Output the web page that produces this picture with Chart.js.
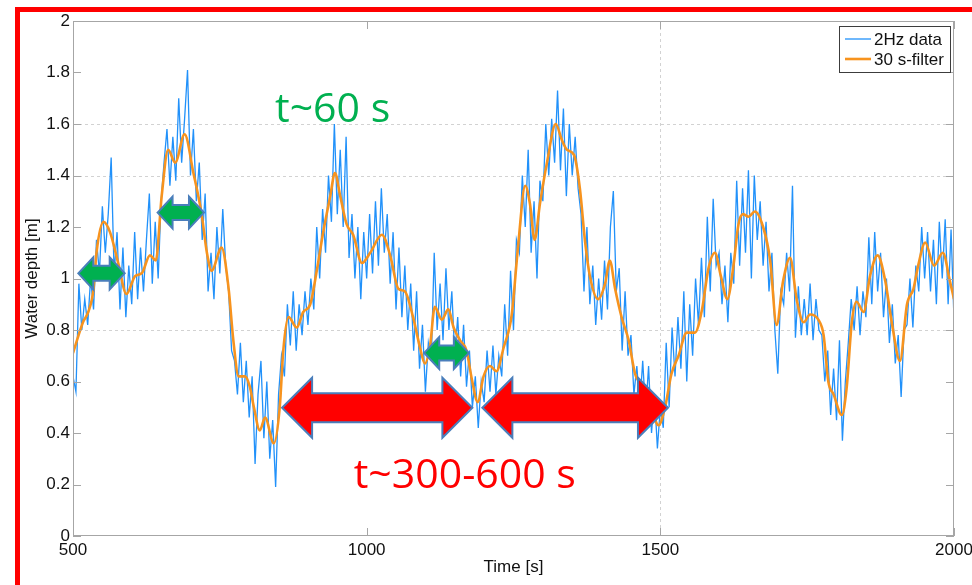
<!DOCTYPE html>
<html>
<head>
<meta charset="utf-8">
<script src="https://cdn.jsdelivr.net/npm/chart.js@4.4.0/dist/chart.umd.min.js"></script>
<style>
    body { margin: 0; background: #fff; }
    #wrap { position: relative; width: 972px; height: 585px; overflow: hidden; }
    #frame_left { position: absolute; left: 15px; top: 7px; width: 5px; height: 578px; background: #ff0000; }
    #frame_top { position: absolute; left: 15px; top: 7px; width: 957px; height: 5px; background: #ff0000; }
</style>
</head>
<body>
<div id="wrap">
    <canvas id="depth_chart" width="972" height="585"></canvas>
    <div id="frame_left"></div>
    <div id="frame_top"></div>
</div>
<script>
// 2Hz record, every 5 s from t = 500 s
var rawStart = 500;
var rawStep = 5;
var rawDepth = [
    0.62, 0.56, 0.98, 0.80, 0.92, 0.82, 1.00, 0.88, 1.15, 1.02,
    1.28, 1.10, 1.25, 1.47, 1.02, 1.18, 0.88, 1.12, 0.85, 1.05,
    0.90, 1.18, 0.92, 1.12, 0.95, 1.15, 1.33, 0.98, 1.22, 1.00,
    1.30, 1.45, 1.58, 1.36, 1.55, 1.38, 1.70, 1.45, 1.62, 1.81,
    1.40, 1.58, 1.30, 1.45, 1.15, 1.33, 0.95, 1.10, 0.92, 1.20,
    1.02, 1.27, 1.05, 0.95, 0.72, 0.68, 0.55, 0.75, 0.52, 0.68,
    0.46, 0.62, 0.28, 0.55, 0.68, 0.38, 0.60, 0.30, 0.45, 0.19,
    0.55, 0.70, 0.62, 0.90, 0.74, 0.95, 0.72, 0.90, 0.78, 0.95,
    0.82, 1.00, 0.88, 1.20, 1.00, 1.27, 1.10, 1.40, 1.22, 1.60,
    1.25, 1.50, 1.20, 1.55, 1.08, 1.25, 1.00, 1.20, 0.92, 1.18,
    1.00, 1.25, 1.02, 1.30, 1.05, 1.35, 1.10, 1.25, 0.98, 1.18,
    0.88, 1.12, 0.85, 1.05, 0.80, 0.98, 0.72, 0.95, 0.65, 0.82,
    0.56, 0.75, 0.68, 1.10, 0.80, 0.98, 0.76, 1.04, 0.80, 0.95,
    0.70, 0.85, 0.62, 0.82, 0.58, 0.72, 0.50, 0.62, 0.42, 0.60,
    0.52, 0.72, 0.56, 0.74, 0.55, 0.70, 0.62, 0.90, 0.70, 1.03,
    0.80, 1.15, 1.10, 1.40, 1.20, 1.50, 1.10, 1.30, 1.00, 1.38,
    1.30, 1.60, 1.40, 1.62, 1.45, 1.73, 1.42, 1.66, 1.32, 1.60,
    1.40, 1.55, 1.35, 1.25, 0.95, 1.20, 0.90, 1.05, 0.82, 1.00,
    0.84, 1.07, 0.88, 1.20, 1.34, 0.95, 1.04, 0.72, 0.95, 0.70,
    0.78, 0.55, 0.66, 0.50, 0.68, 0.48, 0.66, 0.40, 0.55, 0.34,
    0.50, 0.42, 0.75, 0.50, 0.81, 0.62, 0.85, 0.65, 0.95, 0.60,
    0.90, 0.70, 1.00, 0.82, 1.08, 0.85, 1.24, 0.95, 1.31, 1.05,
    1.10, 0.90, 1.05, 0.83, 1.10, 0.98, 1.38, 1.05, 1.35, 1.10,
    1.42, 1.00, 1.40, 1.15, 1.30, 1.05, 1.22, 0.95, 1.10, 0.80,
    0.63, 0.95, 0.90, 1.10, 0.95, 1.36, 0.77, 0.97, 0.78, 0.92,
    0.78, 0.98, 0.76, 0.92, 0.80, 0.78, 0.60, 0.72, 0.47, 0.65,
    0.45, 0.76, 0.37, 0.60, 0.75, 0.92, 0.80, 0.97, 0.78, 0.95,
    0.85, 1.16, 0.90, 1.18, 0.95, 1.10, 0.85, 1.00, 0.75, 0.90,
    0.67, 0.78, 0.54, 0.80, 0.82, 1.00, 0.81, 1.05, 0.95, 1.20,
    1.00, 1.18, 0.95, 1.15, 0.90, 1.22, 1.00, 1.23, 0.90, 1.19,
    0.84
];

// 30 s filtered curve
var filterTime = [
    500, 517, 526, 535, 540, 552, 563, 577, 591, 606,
    617, 631, 641, 651, 662, 674, 690, 705, 719, 728,
    736, 753, 765, 773, 782, 793, 801, 808, 818, 827,
    842, 852, 858, 867, 881, 892, 904, 915, 926, 938,
    946, 955, 966, 977, 992, 1006, 1026, 1040, 1054, 1065,
    1079, 1091, 1099, 1108, 1116, 1128, 1139, 1148, 1159, 1170,
    1179, 1189, 1199, 1210, 1221, 1233, 1247, 1258, 1270, 1278,
    1286, 1295, 1307, 1322, 1332, 1341, 1353, 1363, 1372, 1380,
    1394, 1406, 1414, 1423, 1434, 1446, 1457, 1466, 1482, 1497,
    1508, 1519, 1531, 1545, 1559, 1571, 1582, 1593, 1603, 1614,
    1624, 1633, 1641, 1650, 1661, 1675, 1687, 1698, 1709, 1721,
    1732, 1744, 1755, 1769, 1778, 1786, 1795, 1809, 1817, 1826,
    1834, 1846, 1857, 1870, 1883, 1894, 1908, 1920, 1931, 1939,
    1951, 1966, 1981, 1993, 2000
];
var filterDepth = [
    0.71, 0.83, 0.87, 0.96, 1.10, 1.22, 1.18, 1.06, 0.94, 1.01,
    1.02, 1.09, 1.07, 1.32, 1.50, 1.45, 1.56, 1.41, 1.25, 1.10,
    1.03, 1.12, 0.96, 0.76, 0.62, 0.62, 0.58, 0.50, 0.41, 0.46,
    0.36, 0.50, 0.72, 0.85, 0.81, 0.87, 0.90, 1.03, 1.18, 1.32,
    1.41, 1.32, 1.21, 1.17, 1.06, 1.10, 1.17, 1.09, 0.96, 0.95,
    0.85, 0.73, 0.67, 0.74, 0.89, 0.84, 0.88, 0.81, 0.76, 0.72,
    0.61, 0.52, 0.62, 0.66, 0.64, 0.73, 0.86, 1.13, 1.36, 1.29,
    1.15, 1.29, 1.45, 1.60, 1.54, 1.50, 1.48, 1.35, 1.14, 1.01,
    0.92, 0.98, 1.07, 0.96, 0.85, 0.76, 0.63, 0.59, 0.52, 0.43,
    0.50, 0.63, 0.70, 0.79, 0.79, 0.88, 1.04, 1.10, 1.01, 0.92,
    1.04, 1.21, 1.25, 1.24, 1.26, 1.20, 1.07, 0.82, 0.99, 1.08,
    0.92, 0.83, 0.86, 0.84, 0.78, 0.60, 0.55, 0.47, 0.57, 0.83,
    0.91, 0.87, 1.01, 1.09, 0.99, 0.83, 0.68, 0.90, 0.96, 1.05,
    1.14, 1.05, 1.10, 0.99, 0.92
];

var seriesLabels = ["2Hz data", "30 s-filter"];
var xTicks = [500, 1000, 1500, 2000];
var yTicks = [0, 0.2, 0.4, 0.6, 0.8, 1, 1.2, 1.4, 1.6, 1.8, 2];
// dotted grid lines that show in the picture
var gridX = [1500];
var gridY = [0.8, 1.4, 1.6];

// annotations: [t start, t end, depth]
var greenArrows = [[509, 588, 1.02], [644, 723, 1.256], [1098, 1174, 0.711]];
var redArrows = [[856, 1180, 0.498], [1197, 1513, 0.498]];
var notes = [["t~60 s", 844, 1.608, "#00b050"], ["t~300-600 s", 978, 0.186, "#ff0000"]];

var blueColor = "rgb(33, 145, 250)";
var orangeColor = "#f7931e";
var axisColor = "#a6a6a6";
var gridColor = "#d2d2d2";
var textColor = "#111";
var labelFont = { family: "'Liberation Sans', Arial, sans-serif", size: 17 };

function drawArrow(ctx, x1, x2, cy, head, headHalf, bodyHalf, fill) {
    ctx.beginPath();
    ctx.moveTo(x1, cy);
    ctx.lineTo(x1 + head, cy - headHalf);
    ctx.lineTo(x1 + head, cy - bodyHalf);
    ctx.lineTo(x2 - head, cy - bodyHalf);
    ctx.lineTo(x2 - head, cy - headHalf);
    ctx.lineTo(x2, cy);
    ctx.lineTo(x2 - head, cy + headHalf);
    ctx.lineTo(x2 - head, cy + bodyHalf);
    ctx.lineTo(x1 + head, cy + bodyHalf);
    ctx.lineTo(x1 + head, cy + headHalf);
    ctx.closePath();
    ctx.fillStyle = fill;
    ctx.fill();
    ctx.lineWidth = 2;
    ctx.strokeStyle = "#4a7ebb";
    ctx.stroke();
}

var annotate = {
    id: "annotate",
    beforeDatasetsDraw: function (chart) {
        var ctx = chart.ctx, a = chart.chartArea, xs = chart.scales.x, ys = chart.scales.y;
        ctx.save();
        ctx.strokeStyle = gridColor;
        ctx.lineWidth = 1;
        ctx.setLineDash([3, 3]);
        ctx.beginPath();
        gridY.forEach(function (v) {
            var y = Math.round(ys.getPixelForValue(v)) + 0.5;
            ctx.moveTo(a.left, y); ctx.lineTo(a.right, y);
        });
        gridX.forEach(function (v) {
            var x = Math.round(xs.getPixelForValue(v)) + 0.5;
            ctx.moveTo(x, a.top); ctx.lineTo(x, a.bottom);
        });
        ctx.stroke();
        ctx.restore();
    },
    afterDatasetsDraw: function (chart) {
        var ctx = chart.ctx, xs = chart.scales.x, ys = chart.scales.y;
        ctx.save();
        greenArrows.forEach(function (a) {
            drawArrow(ctx, xs.getPixelForValue(a[0]), xs.getPixelForValue(a[1]), ys.getPixelForValue(a[2]), 15, 16, 7.5, "#00b050");
        });
        redArrows.forEach(function (a) {
            drawArrow(ctx, xs.getPixelForValue(a[0]), xs.getPixelForValue(a[1]), ys.getPixelForValue(a[2]), 30, 30, 14.5, "#ff0000");
        });
        ctx.font = "41px 'Open Sans'";
        ctx.textBaseline = "alphabetic";
        ctx.textAlign = "left";
        notes.forEach(function (n) {
            ctx.fillStyle = n[3];
            ctx.fillText(n[0], xs.getPixelForValue(n[1]), ys.getPixelForValue(n[2]));
        });
        ctx.restore();
    },
    afterDraw: function (chart) {
        var ctx = chart.ctx, a = chart.chartArea, xs = chart.scales.x, ys = chart.scales.y;
        ctx.save();
        // box + inward ticks
        ctx.strokeStyle = axisColor;
        ctx.lineWidth = 1;
        ctx.strokeRect(a.left + 0.5, a.top + 0.5, a.right - a.left - 1, a.bottom - a.top - 1);
        ctx.beginPath();
        yTicks.forEach(function (v) {
            var y = Math.round(ys.getPixelForValue(v)) + 0.5;
            ctx.moveTo(a.left, y); ctx.lineTo(a.left + 8, y);
            ctx.moveTo(a.right, y); ctx.lineTo(a.right - 8, y);
        });
        xTicks.forEach(function (v) {
            var x = Math.round(xs.getPixelForValue(v)) + 0.5;
            ctx.moveTo(x, a.bottom); ctx.lineTo(x, a.bottom - 8);
            ctx.moveTo(x, a.top); ctx.lineTo(x, a.top + 8);
        });
        ctx.stroke();

        // legend box
        ctx.font = "17px 'Liberation Sans', Arial, sans-serif";
        var tw = 0;
        seriesLabels.forEach(function (s) { tw = Math.max(tw, ctx.measureText(s).width); });
        var lw = Math.round(36 + tw + 5), lh = 46;
        var lx = Math.round(a.right - 4 - lw), ly = a.top + 5;
        ctx.fillStyle = "#fff";
        ctx.fillRect(lx, ly, lw, lh);
        ctx.strokeStyle = "#3c3c3c";
        ctx.strokeRect(lx + 0.5, ly + 0.5, lw, lh);
        chart.data.datasets.forEach(function (ds, i) {
            var y = ly + 13 + i * 20;
            ctx.beginPath();
            ctx.strokeStyle = ds.borderColor;
            ctx.lineWidth = ds.borderWidth;
            ctx.moveTo(lx + 6, y); ctx.lineTo(lx + 32, y);
            ctx.stroke();
            ctx.fillStyle = textColor;
            ctx.textBaseline = "middle";
            ctx.fillText(ds.label, lx + 35, y + 1);
        });
        ctx.restore();
    }
};

var rawPoints = rawDepth.map(function (v, i) { return { x: rawStart + i * rawStep, y: v }; });
var filterPoints = filterTime.map(function (t, i) { return { x: t, y: filterDepth[i] }; });

function fixTicks(list) {
    return function (s) { s.ticks = list.map(function (v) { return { value: v }; }); };
}

new Chart(document.getElementById("depth_chart").getContext("2d"), {
    type: "line",
    data: {
        datasets: [{
            label: seriesLabels[0],
            data: rawPoints,
            borderColor: blueColor,
            borderWidth: 1.3,
            pointRadius: 0,
            tension: 0,
            order: 2
        }, {
            label: seriesLabels[1],
            data: filterPoints,
            borderColor: orangeColor,
            borderWidth: 2.6,
            pointRadius: 0,
            cubicInterpolationMode: "monotone",
            order: 1
        }]
    },
    options: {
        responsive: false,
        animation: false,
        devicePixelRatio: 1,
        layout: { padding: { top: 21, right: 18, bottom: 0, left: 0 } },
        plugins: { legend: { display: false }, tooltip: { enabled: false } },
        scales: {
            x: {
                type: "linear",
                min: 500,
                max: 2000,
                afterFit: function (s) { s.height = 49; s.paddingLeft = 0; s.paddingRight = 0; },
                afterBuildTicks: fixTicks(xTicks),
                ticks: {
                    font: labelFont, color: textColor, padding: 4, maxRotation: 0, autoSkip: false,
                    callback: function (v) { return String(v); }
                },
                grid: { display: false, drawTicks: false },
                border: { display: false },
                title: { display: true, text: "Time [s]", font: labelFont, color: textColor, padding: { top: 0, bottom: 7 } }
            },
            y: {
                min: 0,
                max: 2,
                afterFit: function (s) { s.width = 73; },
                afterBuildTicks: fixTicks(yTicks),
                ticks: {
                    font: labelFont,
                    color: textColor,
                    padding: 3,
                    autoSkip: false,
                    callback: function (v) { return String(Math.round(v * 10) / 10); }
                },
                grid: { display: false, drawTicks: false },
                border: { display: false },
                title: { display: true, text: "Water depth [m]", font: labelFont, color: textColor, padding: { top: 22, bottom: 0 } }
            }
        }
    },
    plugins: [annotate]
});
</script>
</body>
</html>
